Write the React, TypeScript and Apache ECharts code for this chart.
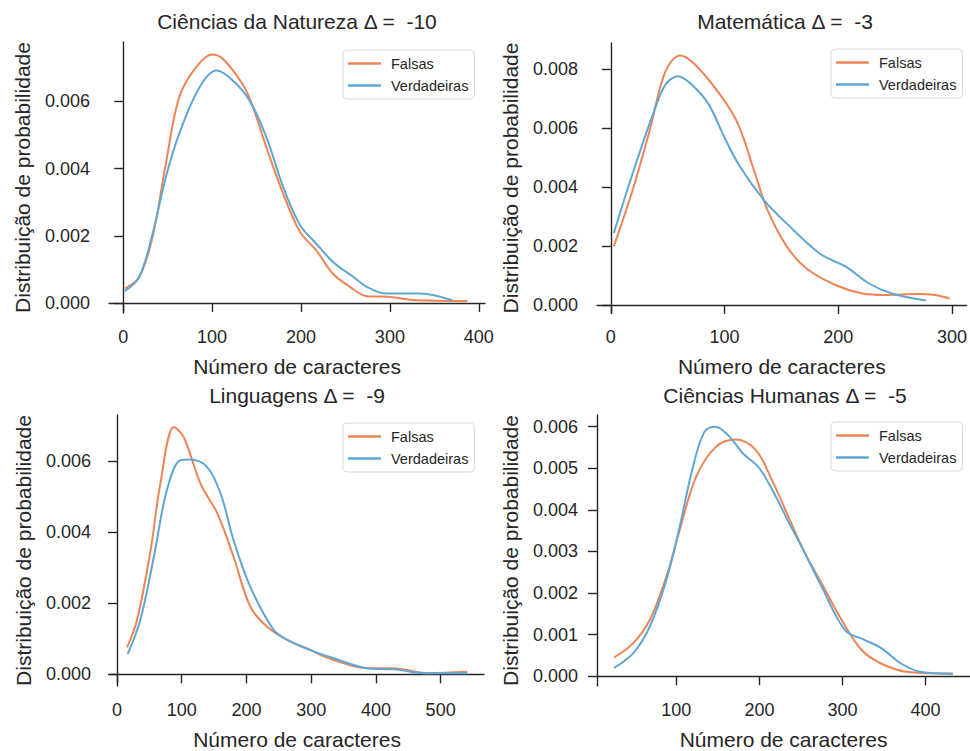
import React, { useEffect, useRef } from "react";
import * as echarts from "echarts";

const FONT = "'Liberation Sans', Arial, Helvetica, sans-serif";
const ORANGE = "#ee8456";
const BLUE = "#5ea6d4";
const INK = "#262626";

const seriesNames = ["Falsas", "Verdadeiras"];
const titles = [
  "Ciências da Natureza Δ =  -10",
  "Matemática Δ =  -3",
  "Linguagens Δ =  -9",
  "Ciências Humanas Δ =  -5",
];
const xLabel = "Número de caracteres";
const yLabel = "Distribuição de probabilidade";

// Ciências da Natureza
const natFalsas = [
  [2, 0.00043], [18, 0.00077], [33, 0.00196], [48, 0.00415], [63, 0.00613],
  [82, 0.00702], [100, 0.0074], [112, 0.00727], [135, 0.00648], [146, 0.00583],
  [161, 0.00464], [180, 0.00325], [199, 0.00211], [217, 0.00157], [236, 0.00087],
  [255, 0.00048], [274, 0.0002], [300, 0.00018], [330, 0.00008], [387, 0.00006],
];
const natVerdadeiras = [
  [2, 0.00036], [18, 0.00077], [33, 0.00206], [48, 0.00375], [63, 0.00504],
  [86, 0.00643], [105, 0.00692], [123, 0.00663], [142, 0.00603], [161, 0.00494],
  [180, 0.00345], [199, 0.00231], [217, 0.00177], [236, 0.00122], [259, 0.00077],
  [274, 0.00048], [296, 0.00028], [334, 0.00028], [370, 0.00008],
];

// Matemática
const matFalsas = [
  [2.6, 0.00199], [19, 0.00388], [34, 0.0059], [48, 0.00792], [61, 0.00846],
  [74, 0.00815], [97, 0.00708], [112, 0.00612], [126, 0.00455], [138, 0.0032],
  [155, 0.00197], [172, 0.00124], [198, 0.00067], [221, 0.00039], [241, 0.00034],
  [270, 0.00037], [285, 0.00034], [298, 0.00022],
];
const matVerdadeiras = [
  [2.6, 0.00244], [19, 0.00444], [37, 0.00646], [48, 0.00747], [59, 0.00775],
  [71, 0.00747], [86, 0.0068], [100, 0.00567], [114, 0.00466], [135, 0.00354],
  [155, 0.00275], [184, 0.00174], [207, 0.00129], [227, 0.00073], [247, 0.00039],
  [277, 0.00015],
];

// Linguagens
const lingFalsas = [
  [15.5, 0.00076], [31, 0.00153], [52, 0.0035], [67, 0.00537], [88, 0.00696],
  [103, 0.00668], [129, 0.00537], [155, 0.00453], [180, 0.00331], [206, 0.0019],
  [232, 0.00134], [263, 0.00097], [299, 0.00068], [335, 0.0004], [387, 0.00017],
  [428, 0.00017], [479, 0.00003], [541, 0.00007],
];
const lingVerdadeiras = [
  [16.5, 0.00057], [36, 0.00153], [57, 0.00331], [77, 0.00518], [98, 0.00603],
  [113, 0.00605], [139, 0.00584], [160, 0.00509], [180, 0.00378], [206, 0.00246],
  [242, 0.00125], [263, 0.00097], [299, 0.00068], [335, 0.00045], [387, 0.00017],
  [428, 0.00014], [479, 0.00003], [541, 0.00003],
];

// Ciências Humanas
const humFalsas = [
  [25, 0.00045], [48, 0.00079], [68, 0.00135], [88, 0.00239], [104, 0.00351],
  [124, 0.0048], [148, 0.00552], [172, 0.00569], [196, 0.00543], [215, 0.00472],
  [235, 0.00383], [255, 0.00295], [275, 0.00223], [299, 0.00135], [323, 0.00063],
  [347, 0.0003], [379, 0.0001], [433, 0.00006],
];
const humVerdadeiras = [
  [25, 0.0002], [48, 0.00055], [68, 0.00119], [88, 0.00231], [104, 0.00359],
  [120, 0.00503], [134, 0.00588], [147, 0.006], [164, 0.00576], [180, 0.00536],
  [200, 0.005], [220, 0.00431], [235, 0.00371], [251, 0.00311], [275, 0.00215],
  [303, 0.00111], [327, 0.00087], [347, 0.00067], [371, 0.0003], [395, 0.0001],
  [433, 0.00006],
];

const xTicks = [
  [0, 100, 200, 300, 400],
  [0, 100, 200, 300],
  [0, 100, 200, 300, 400, 500],
  [100, 200, 300, 400],
];
const yTicks = [
  [0, 0.002, 0.004, 0.006],
  [0, 0.002, 0.004, 0.006, 0.008],
  [0, 0.002, 0.004, 0.006],
  [0, 0.001, 0.002, 0.003, 0.004, 0.005, 0.006],
];
const xRanges = [[-16, 407], [-12.2, 312.8], [-10.8, 567], [4.6, 453.4]];
const yRanges = [[-0.0003, 0.00777], [-0.00027, 0.00888], [-0.00033, 0.0073], [-0.000235, 0.00628]];

const panelData = [
  [natFalsas, natVerdadeiras],
  [matFalsas, matVerdadeiras],
  [lingFalsas, lingVerdadeiras],
  [humFalsas, humVerdadeiras],
];

// layout (pixels)
const grids = [
  { left: 109, top: 42, width: 376, height: 271 },
  { left: 597, top: 43, width: 376, height: 270 },
  { left: 110, top: 415, width: 374, height: 271 },
  { left: 597, top: 415, width: 376, height: 271 },
];
const legendPos = [
  { left: 343, top: 50 },
  { left: 831, top: 49 },
  { left: 343, top: 423 },
  { left: 831, top: 422 },
];
const titleTops = [11, 11, 385, 385];

export default function App() {
  const ref = useRef<HTMLDivElement>(null);
  useEffect(() => {
    if (!ref.current) return;
    const chart = echarts.init(ref.current, undefined, { renderer: "svg" });
    const axisLine = { show: true, lineStyle: { color: INK, width: 1.4 } };
    const axisTickBase = { show: true, length: 9, lineStyle: { color: INK, width: 1.4 } };
    const option: any = {
      animation: false,
      backgroundColor: "#ffffff",
      textStyle: { fontFamily: FONT },
      grid: grids.map((g) => ({ ...g, containLabel: false })),
      xAxis: grids.map((_, i) => ({
        type: "value",
        gridIndex: i,
        min: xRanges[i][0],
        max: xRanges[i][1],
        axisLine,
        axisTick: { ...axisTickBase, customValues: xTicks[i] },
        axisLabel: {
          customValues: xTicks[i],
          color: INK,
          fontSize: 18,
          fontFamily: FONT,
          margin: 15,
          formatter: (v: number) => String(v),
        },
        splitLine: { show: false },
        name: xLabel,
        nameLocation: "middle",
        nameGap: 43,
        nameTextStyle: { color: INK, fontSize: 21, fontFamily: FONT },
      })),
      yAxis: grids.map((_, i) => ({
        type: "value",
        gridIndex: i,
        min: yRanges[i][0],
        max: yRanges[i][1],
        axisLine,
        axisTick: { ...axisTickBase, customValues: yTicks[i] },
        axisLabel: {
          customValues: yTicks[i],
          color: INK,
          fontSize: 18,
          fontFamily: FONT,
          margin: 19,
          formatter: (v: number) => v.toFixed(3),
        },
        splitLine: { show: false },
        name: yLabel,
        nameLocation: "middle",
        nameGap: 76,
        nameTextStyle: { color: INK, fontSize: 21, fontFamily: FONT },
      })),
      legend: legendPos.map((p) => ({
        ...p,
        orient: "vertical",
        data: seriesNames,
        icon: "rect",
        itemWidth: 33,
        itemHeight: 2.5,
        itemGap: 7,
        padding: [6, 6, 6, 5],
        borderColor: "#dadada",
        borderWidth: 1,
        borderRadius: 4,
        backgroundColor: "#ffffff",
        selectedMode: false,
        textStyle: { color: INK, fontSize: 14.5, fontFamily: FONT, padding: [0, 0, 0, 5] },
      })),
      graphic: titles.map((t, i) => ({
        type: "text",
        x: grids[i].left + grids[i].width / 2,
        y: titleTops[i],
        style: {
          text: t,
          fill: INK,
          font: `21px ${FONT}`,
          textAlign: "center",
          textVerticalAlign: "top",
        },
      })),
      series: panelData.flatMap((pair, i) =>
        pair.map((d, j) => ({
          type: "line",
          name: seriesNames[j],
          xAxisIndex: i,
          yAxisIndex: i,
          data: d,
          smooth: 0.35,
          symbol: "none",
          color: j === 0 ? ORANGE : BLUE,
          lineStyle: { width: 2, color: j === 0 ? ORANGE : BLUE },
        }))
      ),
    };
    chart.setOption(option);
    return () => chart.dispose();
  }, []);
  return (
    <div
      ref={ref}
      style={{ position: "absolute", left: 0, top: 0, width: 970, height: 751 }}
    />
  );
}
